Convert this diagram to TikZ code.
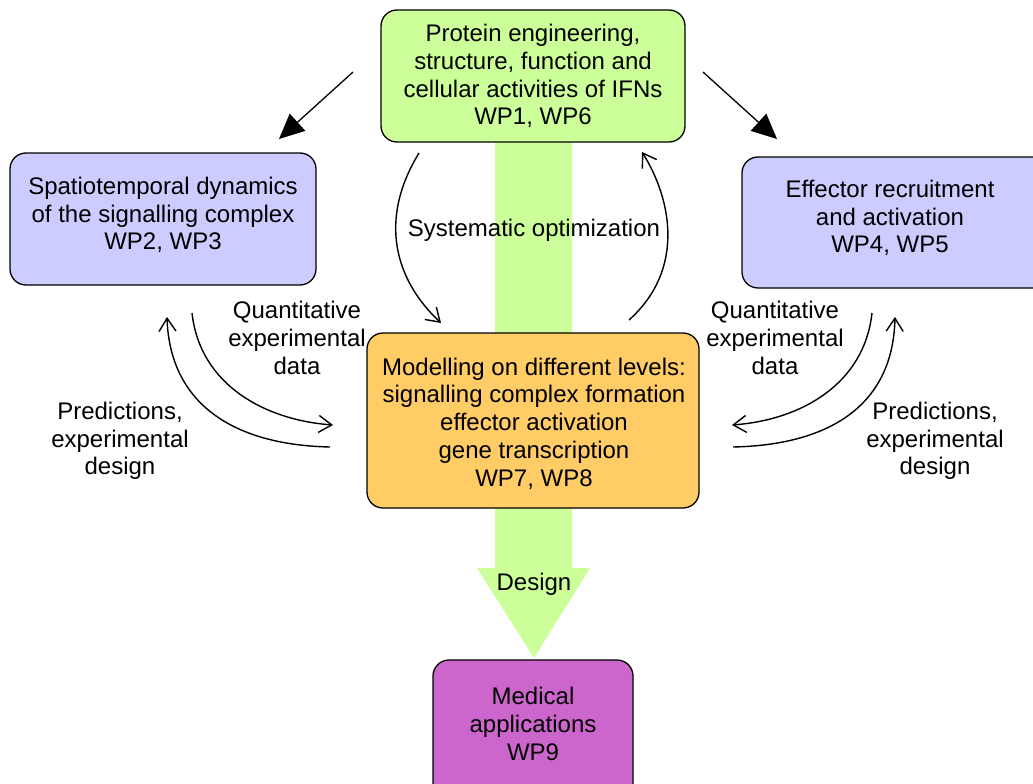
\documentclass[tikz,border=0pt]{standalone}
\usepackage{fontspec}
\setmainfont{Liberation Sans}
\usetikzlibrary{arrows.meta}
\definecolor{boxgreen}{HTML}{CCFF99}
\definecolor{boxblue}{HTML}{CCCCFF}
\definecolor{boxorange}{HTML}{FFCC66}
\definecolor{boxpurple}{HTML}{CC66CC}
\tikzset{
  wpbox/.style={draw=black, line width=1.3pt, rounded corners=16pt, align=center, inner sep=0pt},
  lbl/.style={align=center, inner sep=0pt},
  thin arrow/.style={line width=1.4pt, -{Straight Barb[length=13pt,width=17pt,line width=1.4pt]}},
  big arrow/.style={line width=1.3pt, -{Triangle[length=25pt,width=23pt]}},
}
\begin{document}
\begin{tikzpicture}[x=1pt,y=-1pt, font=\fontsize{24}{27.7}\selectfont]
\useasboundingbox (0,0) rectangle (1033,784);
% wide green arrow
\fill[boxgreen] (495,130) -- (572,130) -- (572,568) -- (590,568) -- (534,658) -- (477,568) -- (495,568) -- cycle;
% boxes
\node[wpbox, fill=boxgreen, minimum width=304pt, minimum height=132pt] (top) at (533,76)
  {Protein engineering,\\structure, function and\\cellular activities of IFNs\\WP1, WP6};
\node[wpbox, fill=boxblue, minimum width=306pt, minimum height=132pt] (left) at (163,219) {};
\node[lbl] at (163,215) {Spatiotemporal dynamics\\of the signalling complex\\WP2, WP3};
\node[wpbox, fill=boxblue, minimum width=320pt, minimum height=131pt] (right) at (902,222.5) {};
\node[lbl] at (890,218) {Effector recruitment\\and activation\\WP4, WP5};
\node[wpbox, fill=boxorange, minimum width=332pt, minimum height=175pt] (mid) at (533,420.5) {};
\node[lbl] at (534,423.5) {Modelling on different levels:\\signalling complex formation\\effector activation\\gene transcription\\WP7, WP8};
\node[wpbox, fill=boxpurple, minimum width=200pt, minimum height=150pt] (med) at (533,735) {};
\node[lbl] at (533,724) {Medical\\applications\\WP9};
% labels
\node[lbl] (sysopt) at (534,230) {Systematic optimization};
\node[lbl] (design) at (534,584) {Design};
\node[lbl] (qleft) at (297,338) {Quantitative\\experimental\\data};
\node[lbl] (pleft) at (120,441) {Predictions,\\experimental\\design};
\node[lbl] (qright) at (775,338) {Quantitative\\experimental\\data};
\node[lbl] (pright) at (935,441) {Predictions,\\experimental\\design};
% coordinates for connector ends
\coordinate (tl0) at (353,72); \coordinate (tl1) at (279,139);
\coordinate (tr0) at (703,72); \coordinate (tr1) at (777,139);
\coordinate (s0) at (419,153); \coordinate (s1) at (441,323);
\coordinate (s2) at (629,320); \coordinate (s3) at (642,152);
\coordinate (a0) at (192,313); \coordinate (a1) at (333,425);
\coordinate (b0) at (330,447); \coordinate (b1) at (167,317);
\coordinate (c0) at (872,313); \coordinate (c1) at (732,425);
\coordinate (d0) at (733,447); \coordinate (d1) at (895,317);
% arrows
\draw[big arrow] (tl0) -- (tl1);
\draw[big arrow] (tr0) -- (tr1);
\draw[thin arrow] (s0) .. controls (378,220) and (395,280) .. (s1);
\draw[thin arrow] (s2) .. controls (685,270) and (672,200) .. (s3);
\draw[thin arrow] (a0) .. controls (200,385) and (265,420) .. (a1);
\draw[thin arrow] (b0) .. controls (235,445) and (170,405) .. (b1);
\draw[thin arrow] (c0) .. controls (864,385) and (800,420) .. (c1);
\draw[thin arrow] (d0) .. controls (830,445) and (893,405) .. (d1);
\end{tikzpicture}
\end{document}
